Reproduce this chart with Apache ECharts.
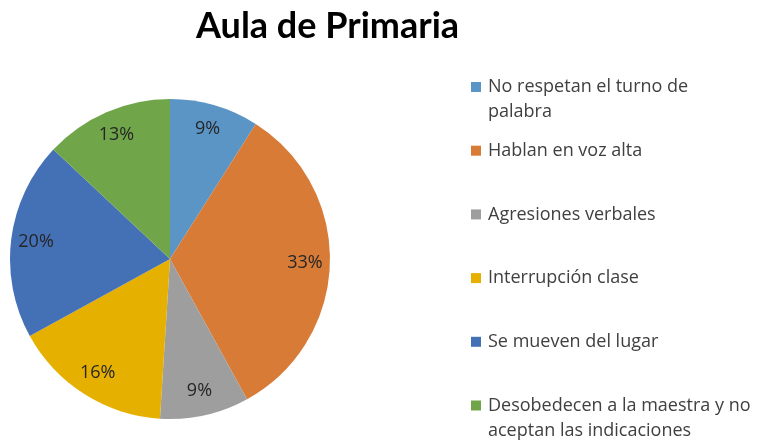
<!DOCTYPE html>
<html>
<head>
<meta charset="utf-8">
<script src="https://cdn.jsdelivr.net/npm/echarts@6/dist/echarts.min.js"></script>
<style>
  html, body { margin: 0; padding: 0; background: #fff; }
  #chart { width: 758px; height: 443px; }
</style>
</head>
<body>
<div id="chart"></div>
<script>
// datos del gráfico
const categories = [
  'No respetan el turno de palabra',
  'Hablan en voz alta',
  'Agresiones verbales',
  'Interrupción clase',
  'Se mueven del lugar',
  'Desobedecen a la maestra y no aceptan las indicaciones'
];
const values = [9, 33, 9, 16, 20, 13];
// textos de la leyenda tal como se cortan en la imagen
const legendLabels = [
  'No respetan el turno de\npalabra',
  'Hablan en voz alta',
  'Agresiones verbales',
  'Interrupción clase',
  'Se mueven del lugar',
  'Desobedecen a la maestra y no\naceptan las indicaciones'
];
const colors = ['#5B95C6', '#D77B37', '#9E9E9E', '#E6B000', '#4470B6', '#70A54A'];

const FONT = '"Open Sans"';
const LINE = 25;

let chart = echarts.init(document.getElementById('chart'));

const pieData = categories.map((name, i) => ({ name: name, value: values[i] }));

// una leyenda por elemento para poder alinear el icono con la primera línea
// (el texto va centrado en el icono, así que se antepone una línea vacía a los de dos líneas)
const legends = categories.map((name, i) => {
  const wrapped = legendLabels[i].indexOf('\n') >= 0;
  const iconTop = 82 + i * 63.7;
  return {
    orient: 'vertical',
    left: 471,
    top: wrapped ? iconTop - 32.5 : iconTop - 7.5,
    padding: 0,
    icon: 'rect',
    itemWidth: 10,
    itemHeight: 10,
    selectedMode: false,
    data: [name],
    formatter: () => (wrapped ? '\n' : '') + legendLabels[i],
    textStyle: {
      fontFamily: FONT,
      fontSize: 18,
      color: '#404040',
      lineHeight: LINE,
      padding: [0, 0, 0, 2]
    }
  };
});

chart.setOption({
  color: colors,
  animation: false,
  title: {
    text: 'Aula de Primaria',
    left: 196,
    top: 8,
    padding: 0,
    textStyle: {
      fontFamily: 'Lato',
      fontWeight: 'bold',
      fontSize: 36,
      color: '#000'
    }
  },
  legend: legends,
  series: [
    {
      type: 'pie',
      center: [170, 259],
      radius: [0, 160],
      startAngle: 90,
      clockwise: true,
      label: { show: false },
      labelLine: { show: false },
      itemStyle: { borderWidth: 0 },
      emphasis: { disabled: true },
      data: pieData
    },
    {
      // anillo invisible solo para colocar las etiquetas hacia el borde
      type: 'pie',
      center: [170, 259],
      radius: [104, 160],
      startAngle: 90,
      clockwise: true,
      silent: true,
      itemStyle: { color: 'rgba(0,0,0,0)', borderWidth: 0 },
      label: {
        show: true,
        position: 'inside',
        formatter: '{c}%',
        fontFamily: FONT,
        fontSize: 18,
        color: '#262626'
      },
      labelLine: { show: false },
      emphasis: { disabled: true },
      data: pieData
    }
  ]
});
</script>
</body>
</html>
